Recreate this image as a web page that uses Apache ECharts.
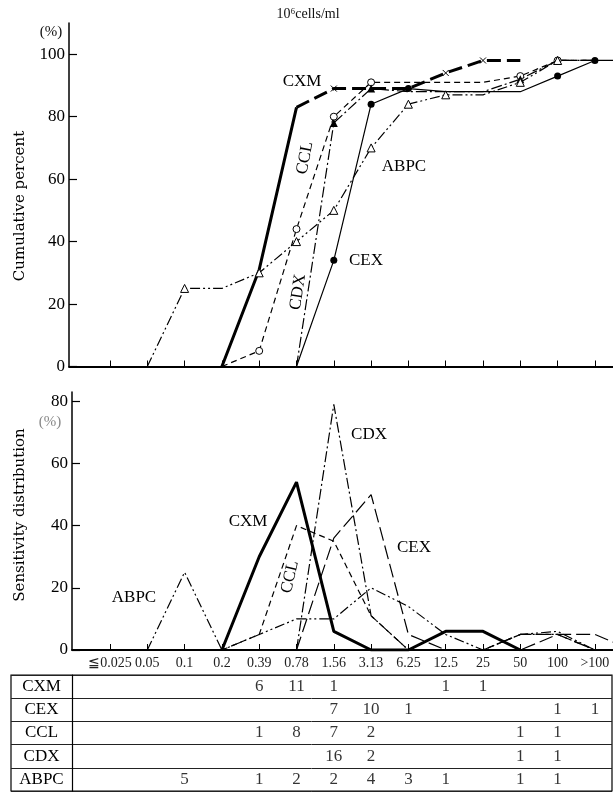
<!DOCTYPE html>
<html><head><meta charset="utf-8">
<script src="https://cdn.jsdelivr.net/npm/echarts@6/dist/echarts.min.js"></script>
<style>html,body{margin:0;padding:0;background:#fff}#c{width:613px;height:794px}</style>
</head><body><div id="c"></div>
<script>
// ---------- data ----------
const categories = ['≦0.025','0.05','0.1','0.2','0.39','0.78','1.56','3.13','6.25','12.5','25','50','100','>100'];
const drugs = ['CXM','CEX','CCL','CDX','ABPC'];

// number of strains per MIC (table)
const countCXM  = [null,null,null,null,6,11,1,null,null,1,1,null,null,null];
const countCEX  = [null,null,null,null,null,null,7,10,1,null,null,null,1,1];
const countCCL  = [null,null,null,null,1,8,7,2,null,null,null,1,1,null];
const countCDX  = [null,null,null,null,null,null,16,2,null,null,null,1,1,null];
const countABPC = [null,null,5,null,1,2,2,4,3,1,null,1,1,null];

// cumulative percent (top panel); index 14 = continuation past the right edge
const cumCXMsolid = [null,null,null,0,31,83];
const cumCXMdash  = [null,null,null,null,null,83,89,89,89,94,98,98];
const cumCEX  = [null,null,null,null,null,0,34,84,89,88,88,88,93,98,98];
const cumCCL  = [null,null,null,0,5,44,80,91,91,91,91,93,98,98];
const cumCDX  = [null,null,null,null,null,0,78,89,88,88,88,92,98,98];
const cumABPC = [null,0,25,25,30,40,50,70,84,87,87,91,98,98];

// sensitivity distribution % (bottom panel); index 14 = continuation past the right edge
const distCXM  = [null,null,null,0,30,54,6,0,0,6,6,0];
const distCEX  = [null,null,null,null,null,0,36,50,5,0,0,0,5,5,0];
const distCCL  = [null,null,null,0,5,40,35,11,0,0,0,5,5,0];
const distCDX  = [null,null,null,null,null,0,79,11,0,0,0,5,5,0];
const distABPC = [null,0,25,0,5,10,10,20,14,5,0,5,6,0];

const cumTicks  = [0,20,40,60,80,100];
const distTicks = [0,20,40,60,80];

// ---------- helpers ----------
const idx = categories.map((c,i)=>i);
const SERIF = '"Liberation Serif", "Times New Roman", serif';
function pts(arr, counts, sym, minIdx){
  const out=[];
  arr.forEach((v,i)=>{
    if(v==null) return;
    const show = counts && i<counts.length && counts[i] && (minIdx==null || i>minIdx);
    out.push({value:[i,v], symbol: show ? sym : 'none'});
  });
  return out;
}
function line(name, data, xi, width, dash, extra){
  return Object.assign({
    name, type:'line', xAxisIndex:xi, yAxisIndex:xi, data,
    showSymbol:true, symbol:'none', clip:true, z:3,
    lineStyle:{color:'#000', width:width, type:dash},
    itemStyle:{color:'#000'}, emphasis:{disabled:true}, silent:true
  }, extra||{});
}
const xSym = 'path://M0 0L10 10M10 0L0 10';

function xAxisBase(grid, min, max){
  return {gridIndex:grid, type:'value', min:min, max:max,
    axisLine:{show:true, onZero:false, lineStyle:{color:'#000', width:1.8}},
    axisTick:{show:true, inside:true, length:6, customValues:idx, lineStyle:{color:'#000', width:1}},
    splitLine:{show:false}, axisLabel:{show:false}};
}

// table rows
const tableCounts = [countCXM,countCEX,countCCL,countCDX,countABPC];
const tableData = [];
tableCounts.forEach((row,r)=>row.forEach((c,i)=>{ if(c!=null) tableData.push([i, drugs[r], c]); }));

const bottomX = xAxisBase(1, -1.019, 13.485);
bottomX.axisLabel = {show:true, customValues:idx, margin:6,
  formatter:v=>categories[Math.round(v)], fontFamily:SERIF, fontSize:14, color:'#222'};

const option = {
  animation:false,
  backgroundColor:'#fff',
  grid:[
    {left:69, right:0, top:23, height:343.5},
    {left:72, right:0, top:392, height:258},
    {left:11, right:1, top:675, height:116, show:true, borderColor:'#000', borderWidth:1.2, backgroundColor:'transparent'}
  ],
  xAxis:[
    xAxisBase(0, -1.099, 13.485),
    bottomX,
    {gridIndex:2, type:'value', min:-2.654, max:13.458, axisLine:{show:false}, axisTick:{show:false}, axisLabel:{show:false}, splitLine:{show:false}}
  ],
  yAxis:[
    {gridIndex:0, type:'value', min:0, max:110,
      axisLine:{show:true, onZero:false, lineStyle:{color:'#000', width:1.5}},
      axisTick:{show:true, inside:true, length:8, customValues:cumTicks, lineStyle:{color:'#000', width:1.2}},
      axisLabel:{customValues:cumTicks, margin:4, fontFamily:SERIF, fontSize:17, color:'#000'},
      splitLine:{show:false}},
    {gridIndex:1, type:'value', min:0, max:83,
      axisLine:{show:true, onZero:false, lineStyle:{color:'#000', width:1.5}},
      axisTick:{show:true, inside:true, length:8, customValues:distTicks, lineStyle:{color:'#000', width:1.2}},
      axisLabel:{customValues:distTicks, margin:4, fontFamily:SERIF, fontSize:17, color:'#000'},
      splitLine:{show:false}},
    {gridIndex:2, type:'category', data:drugs, inverse:true, offset:-61,
      axisLine:{show:true, onZero:false, lineStyle:{color:'#000', width:1.2}},
      axisTick:{show:false},
      axisLabel:{align:'center', margin:30.5, fontFamily:SERIF, fontSize:17, color:'#000'},
      splitLine:{show:true, lineStyle:{color:'#222', width:1}}}
  ],
  series:[
    // top: cumulative
    line('CXM', pts(cumCXMsolid), 0, 3, 'solid'),
    line('CXM', pts(cumCXMdash, countCXM, xSym, 5), 0, 3, [14,6],
      {symbolSize:6, itemStyle:{color:'none', borderColor:'#000', borderWidth:1}}),
    line('CEX', pts(cumCEX, countCEX, 'circle'), 0, 1.2, 'solid', {symbolSize:7}),
    line('CCL', pts(cumCCL, countCCL, 'circle'), 0, 1.2, [6,4],
      {symbolSize:7, itemStyle:{color:'#fff', borderColor:'#000', borderWidth:1}}),
    line('CDX', pts(cumCDX, countCDX, 'triangle'), 0, 1.2, [11,3,2,3], {symbolSize:8}),
    line('ABPC', pts(cumABPC, countABPC, 'triangle'), 0, 1.2, [10,3,2,3,2,3],
      {symbolSize:8, itemStyle:{color:'#fff', borderColor:'#000', borderWidth:1}}),
    // bottom: distribution
    line('CXM', pts(distCXM), 1, 3, 'solid'),
    line('CEX', pts(distCEX), 1, 1.2, [14,5]),
    line('CCL', pts(distCCL), 1, 1.2, [6,4]),
    line('CDX', pts(distCDX), 1, 1.2, [11,3,2,3]),
    line('ABPC', pts(distABPC), 1, 1.2, [10,3,2,3,2,3]),
    // table
    {type:'scatter', xAxisIndex:2, yAxisIndex:2, data:tableData, symbolSize:1,
      itemStyle:{color:'rgba(0,0,0,0)'}, silent:true,
      label:{show:true, position:'inside', formatter:p=>String(p.value[2]),
        fontFamily:SERIF, fontSize:17, color:'#000'}}
  ],
  graphic:[
    {type:'text', x:308, y:14, style:{text:'10⁶cells/ml', font:'14px '+SERIF, fill:'#111', align:'center', verticalAlign:'middle'}},
    {type:'text', x:51, y:32, style:{text:'(%)', font:'15px '+SERIF, fill:'#111', align:'center', verticalAlign:'middle'}},
    {type:'text', x:50, y:422, style:{text:'(%)', font:'15px '+SERIF, fill:'#888', align:'center', verticalAlign:'middle'}},
    {type:'text', x:20, y:206, rotation:Math.PI/2, style:{text:'Cumulative percent', font:'15px "DejaVu Serif", serif', fill:'#000', align:'center', verticalAlign:'middle'}},
    {type:'text', x:20, y:515, rotation:Math.PI/2, style:{text:'Sensitivity distribution', font:'15px "DejaVu Serif", serif', fill:'#000', align:'center', verticalAlign:'middle'}},
    // top panel labels
    {type:'text', x:302, y:82, style:{text:'CXM', font:'17px '+SERIF, fill:'#000', align:'center', verticalAlign:'middle'}},
    {type:'text', x:404, y:167, style:{text:'ABPC', font:'17px '+SERIF, fill:'#000', align:'center', verticalAlign:'middle'}},
    {type:'text', x:366, y:261, style:{text:'CEX', font:'17px '+SERIF, fill:'#000', align:'center', verticalAlign:'middle'}},
    {type:'text', x:305, y:158, rotation:1.38, style:{text:'CCL', font:'17px '+SERIF, fill:'#000', align:'center', verticalAlign:'middle'}},
    {type:'text', x:298, y:292, rotation:1.42, style:{text:'CDX', font:'17px '+SERIF, fill:'#000', align:'center', verticalAlign:'middle'}},
    // bottom panel labels
    {type:'text', x:369, y:435, style:{text:'CDX', font:'17px '+SERIF, fill:'#000', align:'center', verticalAlign:'middle'}},
    {type:'text', x:414, y:548, style:{text:'CEX', font:'17px '+SERIF, fill:'#000', align:'center', verticalAlign:'middle'}},
    {type:'text', x:248, y:522, style:{text:'CXM', font:'17px '+SERIF, fill:'#000', align:'center', verticalAlign:'middle'}},
    {type:'text', x:290, y:577, rotation:1.35, style:{text:'CCL', font:'17px '+SERIF, fill:'#000', align:'center', verticalAlign:'middle'}},
    {type:'text', x:134, y:598, style:{text:'ABPC', font:'17px '+SERIF, fill:'#000', align:'center', verticalAlign:'middle'}}
  ]
};
const chart = echarts.init(document.getElementById('c'), null, {renderer:'canvas'});
chart.setOption(option);
</script>
</body></html>
